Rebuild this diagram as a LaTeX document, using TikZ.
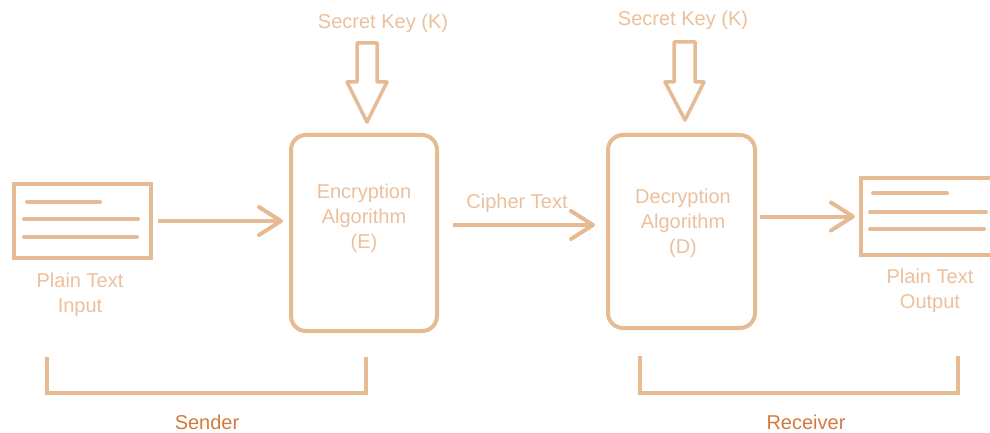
\documentclass[tikz,border=0pt]{standalone}
\usepackage{fontspec}
\setmainfont{Liberation Sans}
\usetikzlibrary{arrows.meta,calc}
\definecolor{tan}{RGB}{230,186,146}
\definecolor{tantext}{RGB}{234,193,156}
\definecolor{rust}{RGB}{211,122,62}
\tikzset{
  docbox/.style={draw=tan, line width=4pt, inner sep=0pt},
  algbox/.style={draw=tan, line width=4pt, rounded corners=15pt, inner sep=0pt},
  txt/.style={text=tantext, align=center, font=\fontsize{20}{25}\selectfont, inner sep=0pt},
  party/.style={text=rust, font=\fontsize{20}{25}\selectfont, inner sep=0pt},
  flow/.style={draw=tan, line width=4pt, -{Straight Barb[length=22pt,width=28pt,round]}},
  keyarrow/.style={draw=tan, line width=3.5pt, line join=round},
  textline/.style={draw=tan, line width=4pt, line cap=round},
  bracket/.style={draw=tan, line width=3.5pt}
}
\begin{document}
\begin{tikzpicture}[x=1pt, y=-1pt]
  \clip (0,0) rectangle (990,433);

  % plain text in
  \node[docbox, minimum width=137pt, minimum height=74pt] (input) at (82.5,221) {};
  \draw[textline] (27,202) -- (100,202);
  \draw[textline] (24,219) -- (138,219);
  \draw[textline] (24,237) -- (137,237);
  \node[txt] (inlbl) at (80,295) {Plain Text\\Input};

  % encryption
  \node[algbox, minimum width=146pt, minimum height=196pt] (enc) at (364,233) {};
  \node[txt] (enctxt) at (364,218) {Encryption\\Algorithm\\(E)};
  \node[txt] (key1) at (383,23) {Secret Key (K)};
  \draw[keyarrow] (357,43) -- (377,43) -- (377,82) -- (387,82) -- (367,122)
                  -- (347,82) -- (357,82) -- cycle;

  % decryption
  \node[algbox, minimum width=147pt, minimum height=193pt] (dec) at (681.5,231.5) {};
  \node[txt] (dectxt) at (683,223) {Decryption\\Algorithm\\(D)};
  \node[txt] (key2) at (683,20) {Secret Key (K)};
  \draw[keyarrow] (674,42) -- (695,42) -- (695,82) -- (704,82) -- (685,120)
                  -- (665,82) -- (674,82) -- cycle;

  % plain text out
  \node[docbox, minimum width=134pt, minimum height=77pt] (output) at (928,216.5) {};
  \draw[textline] (873,193) -- (947,193);
  \draw[textline] (870,212) -- (986,212);
  \draw[textline] (870,229) -- (984,229);
  \node[txt] (outlbl) at (930,291) {Plain Text\\Output};

  % flows
  \draw[flow] ([xshift=5pt]input.east) -- ([xshift=-6pt]input.east -| enc.west);
  \draw[flow] ([shift={(14,-8)}]enc.east) -- ([shift={(-11,-6.5)}]dec.west);
  \node[txt] (cipher) at (517,203) {Cipher Text};
  \draw[flow] ([xshift=3pt]dec.east |- output.west) -- ([xshift=-4pt]output.west);

  % sides
  \draw[bracket] (47,357) -- (47,393) -- (366,393) -- (366,357);
  \node[party] (sender) at (207,422) {Sender};
  \draw[bracket] (640,356) -- (640,393) -- (958,393) -- (958,356);
  \node[party] (receiver) at (806,422) {Receiver};
\end{tikzpicture}
\end{document}
